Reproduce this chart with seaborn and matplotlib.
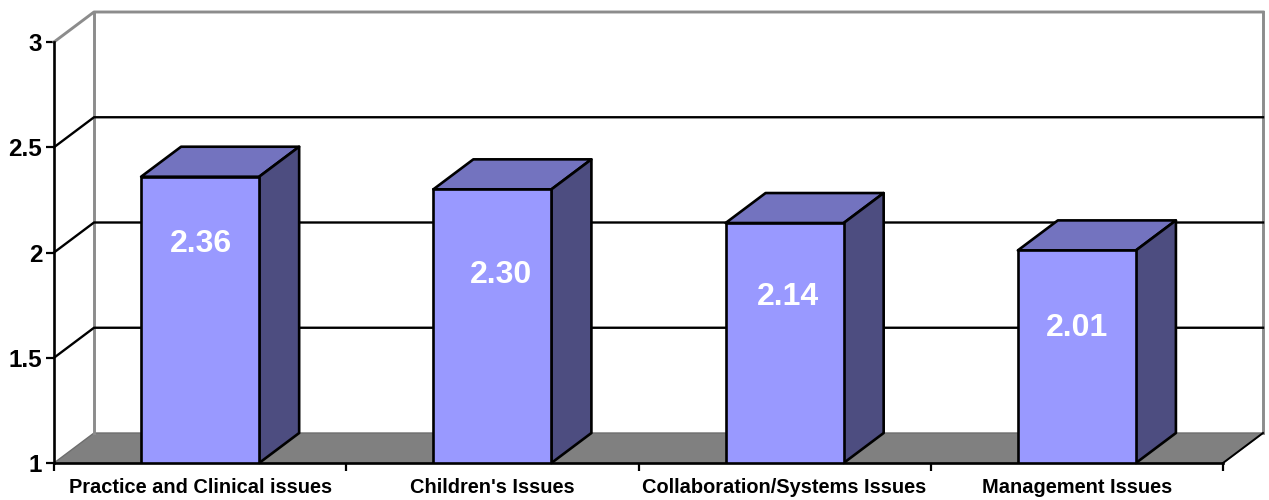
import matplotlib
matplotlib.use("Agg")
import matplotlib.pyplot as plt
from matplotlib.patches import Polygon
import pandas as pd
import seaborn as sns

categories = ["Practice and Clinical issues", "Children's Issues",
              "Collaboration/Systems Issues", "Management Issues"]
scores = [2.36, 2.30, 2.14, 2.01]
score_labels = ["2.36", "2.30", "2.14", "2.01"]
y_ticks = [1, 1.5, 2, 2.5, 3]
y_tick_labels = ["1", "1.5", "2", "2.5", "3"]
gridline_levels = [1.5, 2, 2.5]

# Offset of each value label from its bar's top centre, in pixels
label_drops = [67, 86, 74, 78]
label_shifts = [1, 9, 3, 0]

FRONT = "#9999FF"
TOP = "#7373BF"
SIDE = "#4D4D80"
FLOOR = "#808080"
WALL = "#8C8C8C"
EDGE_LW = 1.9

sns.set_theme(style="white")
plt.rcParams["font.family"] = ["Liberation Sans", "DejaVu Sans"]
plt.rcParams["font.weight"] = "bold"

W, H = 1269, 500
fig = plt.figure(figsize=(W / 100, H / 100), dpi=100)
ax = fig.add_axes([54 / W, (H - 463) / H, 1169 / W, 421 / H])
ax.patch.set_alpha(0)

BAR_WIDTH = 0.404
df = pd.DataFrame({"category": categories, "score": scores})
sns.barplot(data=df, x="category", y="score", order=categories, color=FRONT,
            saturation=1, width=BAR_WIDTH, edgecolor="black", linewidth=EDGE_LW,
            ax=ax, zorder=5)
ax.set_xlim(-0.5, 3.5)
ax.set_ylim(1, 3)
ax.set_xlabel("")
ax.set_ylabel("")

# Depth of the box in data units: 40 px sideways, 30 px upward
DX = 40 / (1169 / 4)
DY = 30 / (421 / 2)
x0, x1 = ax.get_xlim()
y0, y1 = ax.get_ylim()


def poly(points, **kw):
    ax.add_patch(Polygon(points, closed=True, clip_on=False, **kw))


def line(xs, ys, **kw):
    ax.plot(xs, ys, clip_on=False, solid_capstyle="projecting", **kw)


# Floor and back wall
poly([(x0, y0), (x1, y0), (x1 + DX, y0 + DY), (x0 + DX, y0 + DY)],
     facecolor=FLOOR, edgecolor="#6E6E6E", linewidth=1.0, zorder=1)
line([x0 + DX, x0 + DX], [y0 + DY, y1 + DY], color=WALL, lw=2.1, zorder=1.2)
line([x1 + DX, x1 + DX], [y0 + DY, y1 + DY], color=WALL, lw=2.1, zorder=1.2)
line([x0, x0 + DX, x1 + DX], [y1, y1 + DY, y1 + DY], color=WALL, lw=2.1, zorder=1.2)
line([x1, x1 + DX], [y0, y0 + DY], color="black", lw=1.4, zorder=1.3)

# Gridlines run along the back wall and fold down the left side wall
for level in gridline_levels:
    line([x0, x0 + DX, x1 + DX], [level, level + DY, level + DY],
         color="black", lw=1.7, zorder=1.5)

# Top and side faces of each bar, plus its value label
for i, (value, text, drop, shift) in enumerate(zip(scores, score_labels, label_drops, label_shifts)):
    left, right = i - BAR_WIDTH / 2, i + BAR_WIDTH / 2
    poly([(left, value), (right, value), (right + DX, value + DY), (left + DX, value + DY)],
         facecolor=TOP, edgecolor="black", linewidth=EDGE_LW, joinstyle="round", zorder=3)
    poly([(right, y0), (right, value), (right + DX, value + DY), (right + DX, y0 + DY)],
         facecolor=SIDE, edgecolor="black", linewidth=EDGE_LW, joinstyle="round", zorder=3)
    ax.annotate(text, xy=(i, value), xytext=(shift * 0.72, -drop * 0.72), textcoords="offset points",
                ha="center", va="center", color="white", fontsize=23,
                fontweight="bold", zorder=7)

# Axes: category ticks sit on the boundaries between groups
sns.despine(ax=ax, top=True, right=True)
for side in ("left", "bottom"):
    ax.spines[side].set_color("black")
    ax.spines[side].set_linewidth(EDGE_LW)
    ax.spines[side].set_zorder(6)

ax.set_yticks(y_ticks)
ax.set_yticklabels(y_tick_labels, fontsize=17.5, fontweight="bold", color="black")
ax.tick_params(axis="y", left=True, length=5.5, width=1.6, color="black", pad=3)

ax.set_xticks(range(len(categories)))
ax.set_xticklabels(categories, fontsize=14.4, fontweight="bold", color="black")
ax.tick_params(axis="x", which="major", bottom=False, pad=5)
ax.set_xticks([x0 + k for k in range(len(categories) + 1)], minor=True)
ax.tick_params(axis="x", which="minor", bottom=True, length=6, width=1.6, color="black")

fig.savefig("out.png", dpi=100, facecolor="white")
